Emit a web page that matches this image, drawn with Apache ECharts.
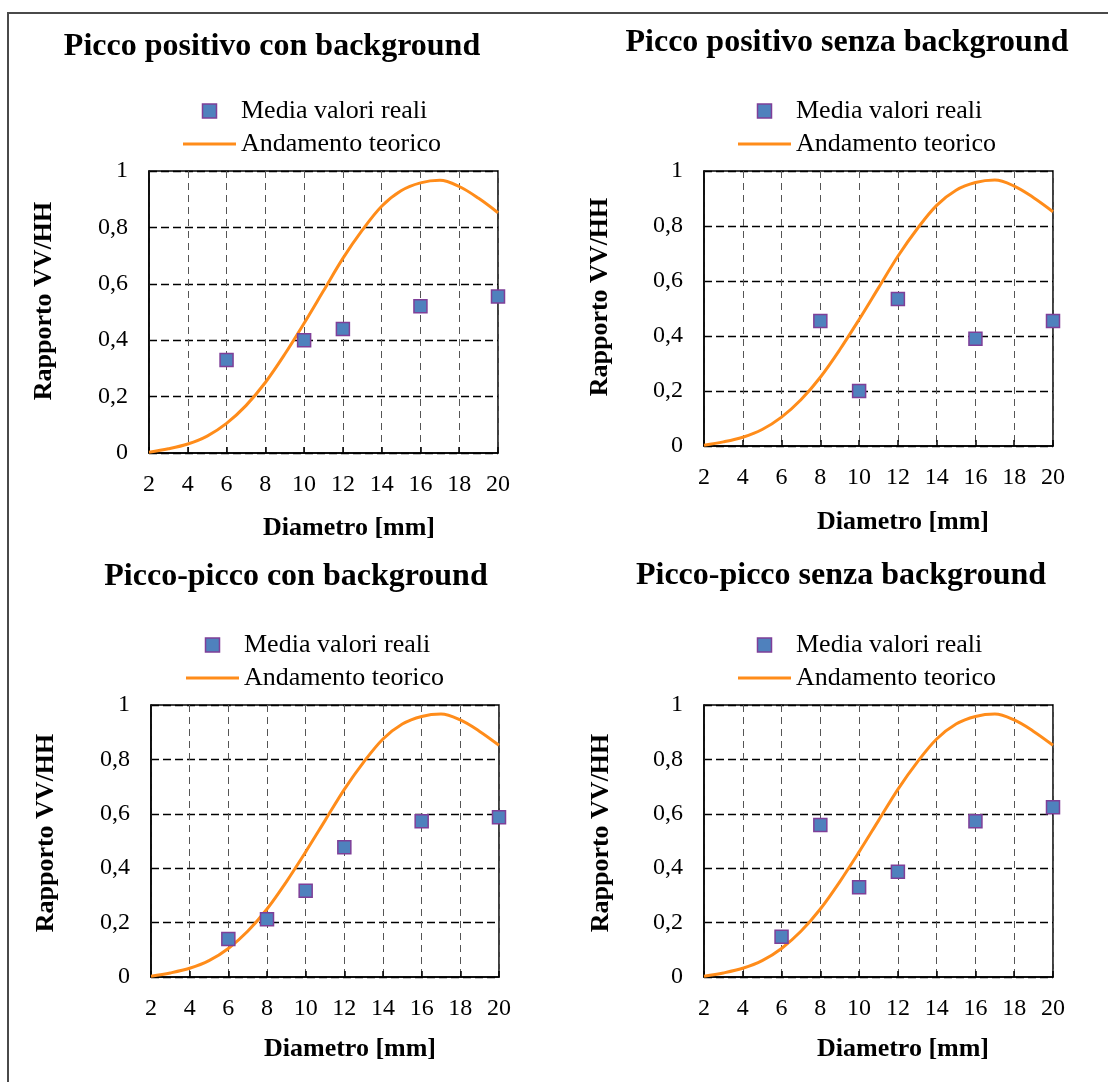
<!DOCTYPE html>
<html>
<head>
<meta charset="utf-8">
<script src="https://cdn.jsdelivr.net/npm/echarts@6/dist/echarts.min.js"></script>
<style>
html,body{margin:0;padding:0;background:#ffffff;}
#c{width:1108px;height:1082px;}
</style>
</head>
<body>
<div id="c"></div>
<script>
// ---------- DATA ----------
const chartTitles = [
  'Picco positivo con background',
  'Picco positivo senza background',
  'Picco-picco con background',
  'Picco-picco senza background'
];
const seriesNames = ['Media valori reali', 'Andamento teorico'];
const xAxisTitle = 'Diametro [mm]';
const yAxisTitle = 'Rapporto VV/HH';

const xTickMin = 2, xTickMax = 20, xTickStep = 2;
const yTickMin = 0, yTickMax = 1, yTickStep = 0.2;

// theoretical curve (same in every panel)
const theoryDiam  = [2, 3, 4, 5, 6, 7, 8, 9, 10, 11, 12, 13, 14, 15, 16, 17, 18, 19, 20];
const theoryRatio = [0.003, 0.015, 0.032, 0.06, 0.105, 0.168, 0.25, 0.35, 0.46, 0.575, 0.69, 0.79, 0.875, 0.93, 0.958, 0.967, 0.945, 0.903, 0.852];

// measured means
const diamPosCon    = [6, 10, 12, 16, 20];
const ratioPosCon   = [0.33, 0.40, 0.44, 0.52, 0.555];
const diamPosSenza  = [8, 10, 12, 16, 20];
const ratioPosSenza = [0.455, 0.20, 0.535, 0.39, 0.455];
const diamPPCon     = [6, 8, 10, 12, 16, 20];
const ratioPPCon    = [0.14, 0.212, 0.317, 0.477, 0.573, 0.587];
const diamPPSenza   = [6, 8, 10, 12, 16, 20];
const ratioPPSenza  = [0.148, 0.559, 0.33, 0.387, 0.573, 0.624];

const measuredDiam  = [diamPosCon, diamPosSenza, diamPPCon, diamPPSenza];
const measuredRatio = [ratioPosCon, ratioPosSenza, ratioPPCon, ratioPPSenza];

// ---------- LAYOUT / STYLE ----------
const FONT = "'Liberation Serif', 'Times New Roman', serif";
const panels = [
  {grid:{left:149, top:171, width:349, height:282}, title:[272, 47], legend:[183, 98],  xName:[349, 528],  yName:[44, 301]},
  {grid:{left:704, top:171, width:349, height:275}, title:[847, 43], legend:[738, 98],  xName:[903, 522],  yName:[600, 297]},
  {grid:{left:151, top:705, width:348, height:272}, title:[296, 577], legend:[186, 632], xName:[350, 1049], yName:[46, 833]},
  {grid:{left:704, top:705, width:349, height:272}, title:[841, 576], legend:[738, 632], xName:[903, 1049], yName:[601, 833]}
];

const markerFill = '#4F81BD', markerBorder = '#7F3F98', lineColor = '#FF8C1A';
const squarePath = 'path://M0,0L10,0L10,10L0,10Z';
const lineIconPath = 'path://M0,0L53,0L53,3L0,3Z';

const theoryData = theoryDiam.map((d, i) => [d, theoryRatio[i]]);

const option = {
  backgroundColor: '#ffffff',
  animation: false,
  title: [], legend: [], grid: [], xAxis: [], yAxis: [], series: [],
  graphic: [{
    type: 'rect', z: 0, silent: true,
    shape: {x: 8, y: 13, width: 1120, height: 1100},
    style: {fill: 'none', stroke: '#4a4a4a', lineWidth: 2}
  }]
};

const fmt = v => (Math.round(v * 10) / 10).toString().replace('.', ',');

panels.forEach((p, k) => {
  option.title.push({
    text: chartTitles[k], left: p.title[0], top: p.title[1],
    textAlign: 'center', textVerticalAlign: 'middle', padding: 0,
    textStyle: {fontFamily: FONT, fontSize: 32, fontWeight: 'bold', color: '#000'}
  });
  option.legend.push({
    orient: 'vertical', left: p.legend[0], top: p.legend[1], padding: 0,
    itemWidth: 53, itemHeight: 14, itemGap: 7, selectedMode: false,
    textStyle: {fontFamily: FONT, fontSize: 26, color: '#000'},
    data: [
      {name: seriesNames[0], icon: squarePath,
       itemStyle: {color: markerFill, borderColor: markerBorder, borderWidth: 1.5}},
      {name: seriesNames[1], icon: lineIconPath,
       itemStyle: {color: lineColor, borderWidth: 0}}
    ]
  });
  option.grid.push(Object.assign({show: true, borderColor: '#000', borderWidth: 1.5, backgroundColor: '#fff'}, p.grid));
  option.xAxis.push({
    type: 'value', gridIndex: k, min: xTickMin, max: xTickMax, interval: xTickStep,
    axisLine: {show: true, lineStyle: {color: '#000', width: 1.5}},
    axisTick: {show: true, inside: true, length: 6, lineStyle: {color: '#000', width: 1.5}},
    axisLabel: {margin: 20, fontFamily: FONT, fontSize: 24, color: '#000'},
    splitLine: {show: true, lineStyle: {color: '#555', width: 1, type: [7, 5]}}
  });
  option.yAxis.push({
    type: 'value', gridIndex: k, min: yTickMin, max: yTickMax, interval: yTickStep,
    axisLine: {show: true, lineStyle: {color: '#000', width: 1.5}},
    axisTick: {show: false},
    axisLabel: {margin: 21, fontFamily: FONT, fontSize: 24, color: '#000', formatter: fmt},
    splitLine: {show: true, lineStyle: {color: '#000', width: 1.3, type: [8, 4]}}
  });
  option.series.push({
    name: seriesNames[1], type: 'line', xAxisIndex: k, yAxisIndex: k, z: 2,
    data: theoryData, symbol: 'none', smooth: 0.35,
    lineStyle: {color: lineColor, width: 3}, itemStyle: {color: lineColor}
  });
  option.series.push({
    name: seriesNames[0], type: 'scatter', xAxisIndex: k, yAxisIndex: k, z: 3,
    data: measuredDiam[k].map((d, i) => [d, measuredRatio[k][i]]),
    symbol: 'rect', symbolSize: 13,
    itemStyle: {color: markerFill, borderColor: markerBorder, borderWidth: 1.5, opacity: 1}
  });
  option.graphic.push({
    type: 'text', x: p.xName[0], y: p.xName[1], silent: true,
    style: {text: xAxisTitle, font: 'bold 26px ' + FONT, fill: '#000',
            align: 'center', verticalAlign: 'middle', textAlign: 'center', textVerticalAlign: 'middle'}
  });
  option.graphic.push({
    type: 'text', x: p.yName[0], y: p.yName[1], rotation: Math.PI / 2, silent: true,
    style: {text: yAxisTitle, font: 'bold 26px ' + FONT, fill: '#000',
            align: 'center', verticalAlign: 'middle', textAlign: 'center', textVerticalAlign: 'middle'}
  });
});

const chart = echarts.init(document.getElementById('c'), null, {renderer: 'canvas'});
chart.setOption(option);
</script>
</body>
</html>
